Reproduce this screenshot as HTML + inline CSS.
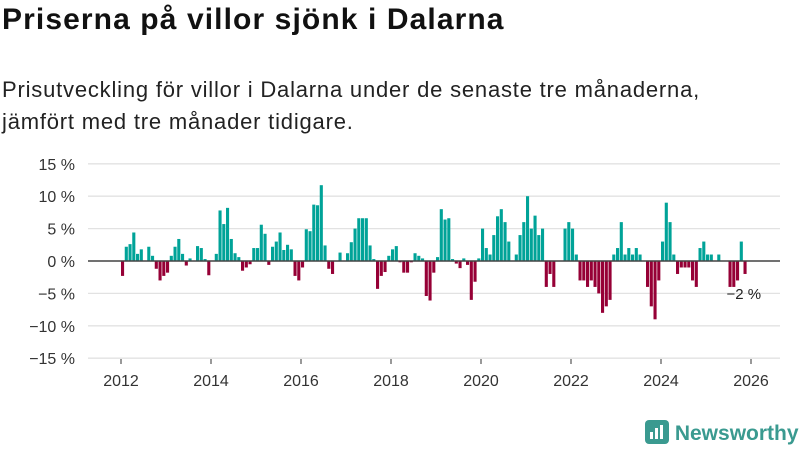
<!DOCTYPE html>
<html><head><meta charset="utf-8"><style>
body{margin:0;width:800px;height:450px;background:#fff;font-family:"Liberation Sans","DejaVu Sans",sans-serif;overflow:hidden;position:relative}
h1{position:absolute;left:2px;top:3px;margin:0;font-size:30px;letter-spacing:1.1px;font-weight:bold;color:#111}
.sub{position:absolute;left:2px;top:74px;font-size:22px;letter-spacing:0.8px;line-height:32px;color:#222}
svg{position:absolute;left:0;top:0}
.logo{position:absolute;left:645px;top:420px;font-size:21px;color:#3a9a90;font-weight:bold}
</style></head><body>
<h1>Priserna på villor sjönk i Dalarna</h1>
<div class="sub">Prisutveckling för villor i Dalarna under de senaste tre månaderna,<br>jämfört med tre månader tidigare.</div>
<svg id="c" width="800" height="450"></svg>
<div class="logo"><svg width="24" height="24" style="vertical-align:-4px;position:static"><rect x="0" y="0" width="24" height="24" rx="4" fill="#3a9a90"/><rect x="5" y="12" width="3" height="7" fill="#fff"/><rect x="10" y="8" width="3" height="11" fill="#fff"/><rect x="15" y="5" width="3" height="14" fill="#fff"/></svg> Newsworthy</div>
<script>
const yTicks=[15,10,5,0,-5,-10,-15];
const xYears=[2012,2014,2016,2018,2020,2022,2024,2026];
const startYear=2012;
const values=[
-2.3,2.2,2.6,4.4,1.1,1.8,0,2.2,0.8,-1.2,-3.0,
-2.3,-1.8,0.8,2.2,3.4,1.1,-0.7,0.4,0,2.3,2.0,0.3,
-2.2,0,1.1,7.8,5.7,8.2,3.4,1.2,0.6,-1.5,-1.0,-0.5,
2.0,2.0,5.6,4.2,-0.6,2.2,3.0,4.4,1.7,2.5,1.8,
-2.3,-3.0,-1.0,4.9,4.6,8.7,8.6,11.7,2.4,-1.2,-2.0,0,
1.3,0,1.2,2.9,5.0,6.6,6.6,6.6,2.4,0.3,-4.3,-2.3,
-1.7,0.8,1.8,2.3,-0.2,-1.8,-1.8,-0.2,1.2,0.8,0.4,-5.4,
-6.1,-1.8,0.6,8.0,6.4,6.6,0.3,-0.4,-1.1,0.4,-0.6,
-6.0,-3.2,0.4,5.0,2.0,1.0,4.0,6.9,8.0,6.0,3.0,0,
1.0,4.0,6.0,10.0,5.0,7.0,4.0,5.0,-4.0,-2.0,-4.0,
0,0,5.0,6.0,5.0,1.0,-3.0,-3.0,-4.0,-3.0,-4.0,-5.0,
-8.0,-7.0,-6.0,1.0,2.0,6.0,1.0,2.0,1.0,2.0,1.0,0,
-4.0,-7.0,-9.0,-3.0,3.0,9.0,6.0,1.0,-2.0,-1.0,-1.0,-1.0,
-3.0,-4.0,2.0,3.0,1.0,1.0,0,1.0,0,0,-4.0,-4.0,
-3.0,3.0,-2.0];
const lastLabel="−2 %";
const NS="http://www.w3.org/2000/svg";
const svg=document.getElementById('c');
const y=v=>261-v*6.48;
const x=m=>121+m*3.75;
function mk(t,a){const e=document.createElementNS(NS,t);for(const k in a)e.setAttribute(k,a[k]);svg.appendChild(e);return e;}
yTicks.forEach(t=>{
 const g=mk('line',{x1:88,x2:780,y1:y(t),y2:y(t),stroke:'#e2e2e2','stroke-width':1.3});
 
 
 const l=mk('text',{x:75,y:y(t)+6,'text-anchor':'end','font-size':16,fill:'#333'});
 l.textContent=(t<0?'−'+(-t):t)+' %';
 
 
});
xYears.forEach(yr=>{
 const xx=x((yr-startYear)*12);
 const t=mk('line',{x1:xx,x2:xx,y1:359,y2:364,stroke:'#333'});
 
 
 const l=mk('text',{x:xx,y:386,'text-anchor':'middle','font-size':16,fill:'#333'});
 l.textContent=yr;
 
 
});
values.forEach((v,i)=>{
 const r=mk('rect',{x:x(i),y:Math.min(y(v),y(0)),width:3.1,height:Math.abs(y(v)-y(0)),fill:v>=0?'#00a398':'#960036'});
 
 
});
const z=mk('line',{x1:88,x2:780,y1:261,y2:261,stroke:'#444','stroke-width':1.5});


const li=values.length-1;
const lb=mk('text',{x:x(li)-17,y:y(values[li])+25,'font-size':15,fill:'#222'});
lb.textContent=lastLabel;


</script>
</body></html>
